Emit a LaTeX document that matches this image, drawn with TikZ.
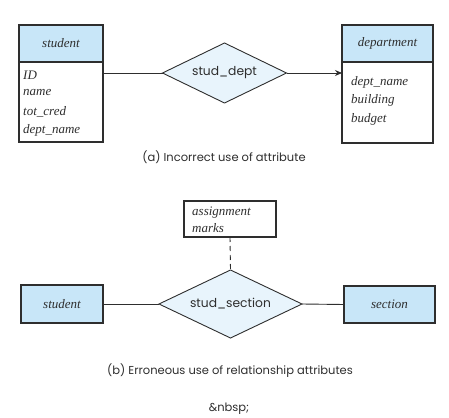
\documentclass[tikz,border=0pt]{standalone}
\usepackage{fontspec}
\setmainfont{Liberation Serif}
\newfontfamily\capfont{Poppins}
\usetikzlibrary{shapes.geometric,arrows.meta}
\definecolor{hdr}{HTML}{C8E6F8}
\definecolor{rel}{HTML}{E8F4FC}
\definecolor{ln}{HTML}{2E2E2E}
\begin{document}
\begin{tikzpicture}[x=1pt,y=-1pt,
  box/.style={draw=ln,line width=1.1pt,inner sep=0pt,outer sep=0pt},
  hbox/.style={box,fill=hdr},
  attr/.style={anchor=west,inner sep=0pt,text=ln,font=\rmfamily\itshape\fontsize{13}{15}\selectfont},
  ename/.style={inner sep=0pt,text=ln,font=\rmfamily\itshape\fontsize{13}{15}\selectfont},
  relship/.style={diamond,draw=ln,line width=0.9pt,fill=rel,inner sep=0pt,outer sep=0pt,aspect=2.07},
  rname/.style={font=\capfont\fontsize{12.3}{15}\selectfont,text=ln},
  conn/.style={draw=ln,line width=0.9pt},
  captext/.style={font=\capfont\fontsize{11.5}{13}\selectfont,text=ln}]
\useasboundingbox (0,0) rectangle (449,417);
% (a)
\node[hbox,minimum width=84pt,minimum height=37pt] (sh) at (61,43.5) {};
\node[ename] at (sh.center) {student};
\node[box,minimum width=84pt,minimum height=80pt] (sb) at (61,102) {};
\node[attr] (a1) at (23,75) {ID};
\node[attr] (a2) at (23,93) {name};
\node[attr] (a3) at (23,111.5) {tot\_cred};
\node[attr] (a4) at (23,130) {dept\_name};
\node[hbox,minimum width=91pt,minimum height=37pt] (dh) at (387.5,43.5) {};
\node[ename] at (dh.center) {department};
\node[box,minimum width=91pt,minimum height=81pt] (db) at (387.5,102.5) {};
\node[attr] (b1) at (351,82) {dept\_name};
\node[attr] (b2) at (351,100.5) {building};
\node[attr] (b3) at (351,119) {budget};
\node[relship,minimum width=124pt,minimum height=60pt] (sd) at (224.5,73) {};
\node[rname] at (sd.center) {stud\_dept};
\draw[conn] (sd.west) -- (sd.west -| sb.east);
\draw[conn,-{Stealth[length=7pt,width=6pt]}] (sd.east) -- (sd.east -| db.west);
\node[captext] (ca) at (224,157) {(a) Incorrect use of attribute};
% (b)
\node[box,minimum width=92pt,minimum height=36pt] (as) at (230,219) {};
\node[attr] (m1) at (192,213) {assignment};
\node[attr] (m2) at (192,228.5) {marks};
\node[relship,minimum width=143pt,minimum height=68pt] (ss) at (230.5,304) {};
\node[rname] at (ss.center) {stud\_section};
\node[hbox,minimum width=82pt,minimum height=38pt] (st) at (62,304) {};
\node[ename] at (st.center) {student};
\node[hbox,minimum width=91pt,minimum height=37pt] (se) at (389.5,304.5) {};
\node[ename] at (se.center) {section};
\draw[conn] (ss.west) -- (st.east);
\draw[conn] (ss.east) -- (se.west);
\draw[conn,dash pattern=on 5pt off 4pt] (as.south) -- (ss.north);
\node[captext] (cb) at (230,371) {(b) Erroneous use of relationship attributes};
\node[captext] (nb) at (229,409) {\&nbsp;};
\end{tikzpicture}
\end{document}
